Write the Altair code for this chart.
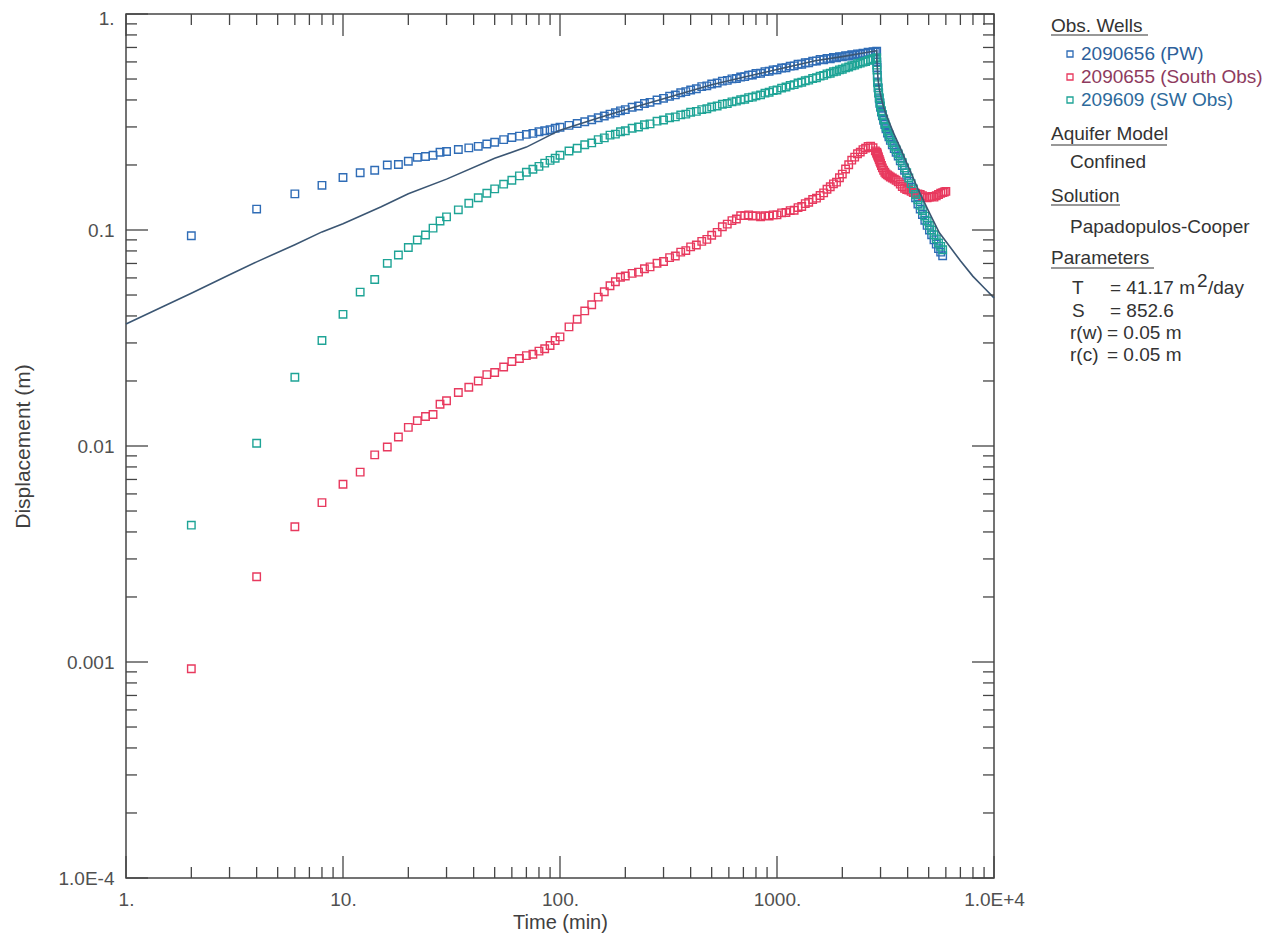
import altair as alt
import pandas as pd

# ---------------- data ----------------
time_pump = [2, 4, 6, 8, 10, 12, 14, 16, 18, 20, 22, 24, 26, 28, 30,
             34, 38, 42, 46, 50, 55, 60, 65, 70, 75, 80, 85, 90, 95, 100,
             110, 120, 130, 140, 150, 160, 170, 180, 190, 200,
             215, 230, 245, 260, 280, 300, 320, 340, 360, 380, 400,
             425, 450, 475, 500, 530, 560, 590, 620, 650, 680, 710, 740, 770, 800,
             840, 880, 920, 960, 1000, 1050, 1100, 1150, 1200, 1250, 1300, 1350, 1400,
             1460, 1520, 1580, 1640, 1700, 1760, 1820, 1880, 1940, 2000, 2070, 2140,
             2210, 2280, 2350, 2420, 2490, 2560, 2630, 2700, 2770, 2840, 2880]
time_recovery = [2885, 2890, 2900, 2910, 2925, 2940, 2960, 2980, 3000, 3030,
                 3060, 3100, 3140, 3180, 3230, 3280, 3330, 3400, 3470, 3540,
                 3620, 3700, 3780, 3870, 3960, 4050, 4150, 4250, 4350, 4460,
                 4570, 4680, 4800, 4920, 5040, 5160, 5290, 5420, 5550, 5680,
                 5800, 5900, 6000]

pw_pump = [0.094, 0.125, 0.147, 0.161, 0.175, 0.184, 0.189, 0.200, 0.201, 0.208, 0.217, 0.219, 0.222, 0.229, 0.231,
           0.236, 0.240, 0.244, 0.250, 0.255, 0.262, 0.268, 0.272, 0.277, 0.280, 0.285, 0.288, 0.291, 0.296, 0.299,
           0.305, 0.311, 0.317, 0.324, 0.331, 0.337, 0.344, 0.349, 0.356, 0.361,
           0.370, 0.375, 0.385, 0.390, 0.400, 0.407, 0.416, 0.422, 0.432, 0.437, 0.445,
           0.451, 0.461, 0.465, 0.474, 0.479, 0.489, 0.493, 0.501, 0.503, 0.511, 0.513, 0.521, 0.522, 0.530,
           0.532, 0.541, 0.543, 0.551, 0.552, 0.562, 0.564, 0.574, 0.575, 0.585, 0.585, 0.595, 0.595,
           0.605, 0.606, 0.616, 0.614, 0.623, 0.621, 0.629, 0.627, 0.635, 0.633, 0.641, 0.639,
           0.648, 0.645, 0.654, 0.651, 0.659, 0.656, 0.665, 0.661, 0.670, 0.666, 0.672]
pw_recovery = [0.600, 0.565, 0.520, 0.485, 0.455, 0.430, 0.405, 0.385, 0.370, 0.352,
               0.338, 0.322, 0.308, 0.294, 0.281, 0.270, 0.260, 0.248, 0.238, 0.229,
               0.220, 0.209, 0.199, 0.189, 0.179, 0.168, 0.158, 0.149, 0.141, 0.132,
               0.125, 0.118, 0.111, 0.105, 0.100, 0.095, 0.090, 0.086, 0.082, 0.079,
               0.076, None, None]

south_pump = [0.00093, 0.00248, 0.00423, 0.00547, 0.00665, 0.00757, 0.0091, 0.0099, 0.0110, 0.0122, 0.0131, 0.0137, 0.0140, 0.0156, 0.0162,
              0.0177, 0.0187, 0.0200, 0.0214, 0.0219, 0.0232, 0.0246, 0.0254, 0.0262, 0.0266, 0.0275, 0.0282, 0.0292, 0.0308, 0.0320,
              0.0356, 0.0386, 0.0422, 0.0451, 0.0489, 0.0518, 0.0552, 0.0576, 0.0604, 0.0612,
              0.0630, 0.0638, 0.0662, 0.0675, 0.0702, 0.0715, 0.0745, 0.0758, 0.0790, 0.0803, 0.0835,
              0.0852, 0.0886, 0.0905, 0.0946, 0.0975, 0.1035, 0.1065, 0.1105, 0.1125, 0.1165, 0.1165, 0.1175, 0.1160, 0.1165,
              0.1150, 0.1165, 0.1160, 0.1175, 0.1175, 0.1200, 0.1205, 0.1230, 0.1235, 0.1270, 0.1285, 0.1325, 0.1345,
              0.1385, 0.1405, 0.1445, 0.1485, 0.1545, 0.1585, 0.1635, 0.1665, 0.1745, 0.1815, 0.1915, 0.2005,
              0.2105, 0.2175, 0.2255, 0.2295, 0.2355, 0.2395, 0.2435, 0.2445, 0.2405, 0.2325, 0.2290]
south_recovery = [0.228, 0.226, 0.224, 0.222, 0.219, 0.216, 0.212, 0.208, 0.204, 0.199,
                  0.194, 0.189, 0.185, 0.182, 0.180, 0.178, 0.176, 0.174, 0.172, 0.170,
                  0.167, 0.163, 0.159, 0.156, 0.154, 0.153, 0.151, 0.149, 0.148, 0.147,
                  0.146, 0.144, 0.142, 0.141, 0.142, 0.143, 0.142, 0.144, 0.146, 0.148,
                  0.149, 0.150, 0.151]

sw_pump = [0.0043, 0.0103, 0.0208, 0.0308, 0.0407, 0.0516, 0.0590, 0.0701, 0.0766, 0.0830, 0.0899, 0.0948, 0.102, 0.110, 0.115,
           0.124, 0.133, 0.141, 0.148, 0.155, 0.163, 0.170, 0.178, 0.185, 0.191, 0.197, 0.204, 0.210, 0.215, 0.222,
           0.232, 0.239, 0.248, 0.253, 0.262, 0.267, 0.275, 0.278, 0.285, 0.288,
           0.296, 0.300, 0.307, 0.310, 0.319, 0.323, 0.331, 0.334, 0.341, 0.344, 0.351,
           0.354, 0.361, 0.364, 0.371, 0.375, 0.382, 0.385, 0.392, 0.395, 0.401, 0.403, 0.410, 0.412, 0.418,
           0.422, 0.430, 0.434, 0.442, 0.445, 0.454, 0.459, 0.467, 0.471, 0.479, 0.483, 0.491, 0.494,
           0.503, 0.507, 0.516, 0.520, 0.528, 0.532, 0.540, 0.543, 0.551, 0.555, 0.563, 0.568,
           0.576, 0.580, 0.588, 0.592, 0.599, 0.603, 0.610, 0.614, 0.621, 0.623, 0.628]
sw_recovery = [0.580, 0.550, 0.510, 0.480, 0.455, 0.432, 0.410, 0.390, 0.375, 0.357,
               0.343, 0.327, 0.313, 0.300, 0.287, 0.276, 0.266, 0.254, 0.244, 0.235,
               0.225, 0.215, 0.205, 0.194, 0.184, 0.174, 0.164, 0.155, 0.146, 0.138,
               0.130, 0.123, 0.116, 0.110, 0.105, 0.100, 0.095, 0.091, 0.087, 0.084,
               0.081, None, None]

model_time = [1, 1.5, 2, 3, 4, 6, 8, 10, 15, 20, 30, 50, 70, 100, 150, 200, 300, 500, 700,
              1000, 1500, 2000, 2500, 2880, 2890, 2920, 2960, 3020, 3100, 3250, 3450, 3700,
              4000, 4500, 5000, 5600, 6300, 7000, 8000, 9000, 10000]
model_disp = [0.0367, 0.0445, 0.051, 0.062, 0.0712, 0.0855, 0.098, 0.107, 0.128, 0.147, 0.172, 0.215, 0.242, 0.290,
              0.330, 0.360, 0.405, 0.470, 0.510, 0.553, 0.607, 0.635, 0.660, 0.676, 0.600, 0.500, 0.450,
              0.410, 0.370, 0.325, 0.280, 0.240, 0.200, 0.152, 0.122, 0.097, 0.083, 0.072, 0.061,
              0.054, 0.0485]

series_names = ["2090656 (PW)", "2090655 (South Obs)", "209609 (SW Obs)"]
series_colors = ["#2f6cb6", "#e8395e", "#1ea496"]
label_colors = ["#2d5f9a", "#8e3b5e", "#2d6a9b"]

x_major = [1, 10, 100, 1000, 10000]
y_major = [0.0001, 0.001, 0.01, 0.1, 1]

# ---------------- tables ----------------
all_times = time_pump + time_recovery
rows = []
for name, vals in zip(series_names, [pw_pump + pw_recovery, south_pump + south_recovery, sw_pump + sw_recovery]):
    for t, v in zip(all_times, vals):
        if v is not None:
            rows.append({"series": name, "t": t, "d": v})
obs = pd.DataFrame(rows)
model = pd.DataFrame({"t": model_time, "d": model_disp})

x_minor = [k * 10 ** e for e in range(0, 4) for k in range(2, 10)]
y_minor = [k * 10.0 ** e for e in range(-4, 0) for k in range(2, 10)]

W, H = 868, 864
FONT = "Liberation Sans"
AX = "#454545"

xs = alt.Scale(type="log", domain=[1, 10000], nice=False)
ys = alt.Scale(type="log", domain=[0.0001, 1], nice=False)

x_axis = alt.Axis(values=x_major, ticks=False, domain=False, grid=False,
                  labelExpr="datum.value >= 5000 ? '1.0E+4' : datum.value >= 500 ? '1000.' : datum.value >= 50 ? '100.' : datum.value >= 5 ? '10.' : '1.'",
                  labelFont=FONT, labelFontSize=19, labelColor="#505050", labelPadding=12,
                  labelOverlap=False, labelFlush=False,
                  title="Time (min)", titleFont=FONT, titleFontSize=20, titleFontWeight="normal",
                  titleColor="#404040", titleX=W / 2, titleY=44, titleAlign="center", titleBaseline="middle")
y_axis = alt.Axis(values=y_major, ticks=False, domain=False, grid=False,
                  labelExpr="datum.value >= 0.5 ? '1.' : datum.value >= 0.05 ? '0.1' : datum.value >= 0.005 ? '0.01' : datum.value >= 0.0005 ? '0.001' : '1.0E-4'",
                  labelFont=FONT, labelFontSize=19, labelColor="#505050", labelPadding=12,
                  labelOverlap=False, labelFlush=False,
                  labelOffset={"condition": {"test": "datum.value >= 0.5", "value": 4}, "value": 0},
                  title="Displacement (m)", titleFont=FONT, titleFontSize=21, titleFontWeight="normal",
                  titleColor="#404040", titleX=-103, titleY=H / 2, titleAngle=-90,
                  titleAlign="center", titleBaseline="middle")


def X(field):
    return alt.X(field, scale=xs, axis=x_axis)


def Y(field):
    return alt.Y(field, scale=ys, axis=y_axis)


points = alt.Chart(obs).mark_point(shape="square", filled=False, size=56, strokeWidth=1.4, opacity=1).encode(
    x=X("t:Q"),
    y=Y("d:Q"),
    color=alt.Color("series:N", scale=alt.Scale(domain=series_names, range=series_colors), legend=None),
)

line = alt.Chart(model).mark_line(color="#3b5673", strokeWidth=1.6).encode(
    x=X("t:Q"),
    y=Y("d:Q"),
    order="t:Q",
)


def yticks(vals, length, right):
    base = alt.Chart(pd.DataFrame({"v": vals})).mark_rule(color=AX, strokeWidth=1.3)
    if right:
        return base.encode(y=Y("v:Q"), x=alt.value(W - length), x2=alt.value(W))
    return base.encode(y=Y("v:Q"), x=alt.value(0), x2=alt.value(length))


def xticks(vals, length, top):
    base = alt.Chart(pd.DataFrame({"v": vals})).mark_rule(color=AX, strokeWidth=1.3)
    if top:
        return base.encode(x=X("v:Q"), y=alt.value(0), y2=alt.value(length))
    return base.encode(x=X("v:Q"), y=alt.value(H - length), y2=alt.value(H))


tick_layers = [yticks(y_major, 22, False), yticks(y_minor, 11, False),
               yticks(y_major, 22, True), yticks(y_minor, 11, True),
               xticks(x_major, 22, False), xticks(x_minor, 11, False),
               xticks(x_major, 22, True), xticks(x_minor, 11, True)]

# ---------------- side legend / annotation block ----------------
one = pd.DataFrame({"a": [0]})


def txt(text, x, y, color="#333333", size=19):
    return alt.Chart(one).mark_text(text=text, align="left", baseline="alphabetic", font=FONT,
                                    fontSize=size, color=color).encode(x=alt.value(x), y=alt.value(y))


def uline(x1, x2, y):
    return alt.Chart(one).mark_rule(color="#333333", strokeWidth=1.2).encode(
        x=alt.value(x1), x2=alt.value(x2), y=alt.value(y))


def swatch(x, y, color):
    return alt.Chart(one).mark_point(shape="square", filled=False, size=36, strokeWidth=1.3,
                                     color=color, opacity=1).encode(x=alt.value(x), y=alt.value(y))


LX, IX = 925, 944
legend = [
    txt("Obs. Wells", LX, 18), uline(LX, 1022, 21),
    swatch(IX, 40, series_colors[0]), txt(series_names[0], 955, 46, label_colors[0]),
    swatch(IX, 63, series_colors[1]), txt(series_names[1], 955, 69, label_colors[1]),
    swatch(IX, 86, series_colors[2]), txt(series_names[2], 955, 92, label_colors[2]),
    txt("Aquifer Model", LX, 126), uline(LX, 1041, 131),
    txt("Confined", IX, 154),
    txt("Solution", LX, 188), uline(LX, 994, 191),
    txt("Papadopulos-Cooper", IX, 219),
    txt("Parameters", LX, 250), uline(LX, 1028, 254),
    txt("T", 946, 280), txt("= 41.17 m", 984, 280), txt("2", 1071, 273), txt("/day", 1082, 280),
    txt("S", 946, 303), txt("= 852.6", 984, 303),
    txt("r(w)", IX, 325), txt("= 0.05 m", 981, 325),
    txt("r(c)", IX, 347), txt("= 0.05 m", 981, 347),
]

chart = alt.layer(points, line, *tick_layers, *legend).properties(
    width=W, height=H,
    autosize=alt.AutoSizeParams(type="none"),
    padding={"left": 118, "top": 6, "right": 277, "bottom": 59},
    background="white",
).configure_view(stroke=AX, strokeWidth=1.5)

chart.save("out.html", embed_options={"renderer": "svg", "actions": False})
